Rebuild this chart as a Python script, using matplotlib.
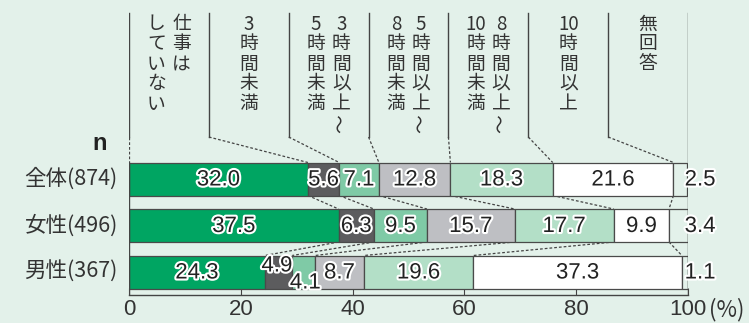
import re
import matplotlib
matplotlib.use("Agg")
import matplotlib.pyplot as plt
import matplotlib.patheffects as pe
import numpy as np

plt.rcParams['font.family'] = ['Liberation Sans', 'Noto Sans CJK JP', 'DejaVu Sans']

# ---------------- data ----------------
categories = ["仕事はしていない", "3時間未満", "3時間以上～5時間未満", "5時間以上～8時間未満",
              "8時間以上～10時間未満", "10時間以上", "無回答"]
header_cols = [["仕事は", "していない"], ["3時間未満"], ["3時間以上～", "5時間未満"],
               ["5時間以上～", "8時間未満"], ["8時間以上～", "10時間未満"], ["10時間以上"], ["無回答"]]
groups = ["全体(874)", "女性(496)", "男性(367)"]
v_all = [32.0, 5.6, 7.1, 12.8, 18.3, 21.6, 2.5]
v_female = [37.5, 6.3, 9.5, 15.7, 17.7, 9.9, 3.4]
v_male = [24.3, 4.9, 4.1, 8.7, 19.6, 37.3, 1.1]
rows = [v_all, v_female, v_male]
xticks = [0, 20, 40, 60, 80, 100]

# ---------------- style ----------------
BG = "#e3f1ea"
colors = ["#00a562", "#5c5c5e", "#7fcaa6", "#bebfc3", "#b3dfc7", "#ffffff", BG]
EDGE = "#4a4a4a"
TXT = "#333333"
label_offsets = {(2, 1): (-0.3, -7), (2, 2): (0.3, 10)}  # (row, seg): (dx data, dy px)

W, H = 749, 323
fig = plt.figure(figsize=(W / 100, H / 100), dpi=100, facecolor=BG)
ax = fig.add_axes([129 / W, 28 / H, 559 / W, 295 / H])
ax.set_facecolor(BG)
ax.set_xlim(0, 100)
ax.set_ylim(295, 0)

bar_h = 33
row_c = [179 + 46.5 * i for i in range(len(rows))]

outline = [pe.withStroke(linewidth=3, foreground="white")]
lab_font = dict(family=['Liberation Sans Narrow', 'Liberation Sans'], fontsize=16, color="#222222")

cums = []
for i, vals in enumerate(rows):
    left = np.concatenate([[0], np.cumsum(vals)[:-1]])
    cums.append(np.cumsum(vals))
    ax.barh(row_c[i], vals, left=left, height=bar_h, color=colors, edgecolor=EDGE,
            linewidth=0.9, zorder=3)
    for j, v in enumerate(vals):
        if j == len(vals) - 1:
            ax.text(99.4, row_c[i] + 1, f"{v:.1f}", ha="left", va="center",
                    path_effects=outline, zorder=6, **lab_font)
        else:
            dx, dy = label_offsets.get((i, j), (0, 0))
            ax.text(left[j] + v / 2 + dx, row_c[i] + 1 + dy, f"{v:.1f}", ha="center",
                    va="center", path_effects=outline, zorder=6, **lab_font)
    ax.text(-2.0, row_c[i], groups[i], ha="right", va="center", fontsize=15.5,
            color=TXT, family=['Noto Sans CJK JP'])

dash = dict(color="#444444", linewidth=0.9, linestyle=(0, (2.2, 1.6)), zorder=2)
ncat = len(categories)
# connectors between bars
for i in range(len(rows) - 1):
    for k in range(ncat - 1):
        ax.plot([cums[i][k], cums[i + 1][k]], [row_c[i] + bar_h / 2, row_c[i + 1] - bar_h / 2], **dash)

# header separators
head_top, head_bot = 13, 137
colw = 100 / ncat
for k in range(ncat + 1):
    xk = k * colw
    if k == ncat:
        ax.plot([100, 100], [head_top, 295], color="#444444", lw=1.0, zorder=4)
        continue
    ax.plot([xk, xk], [head_top, head_bot], color="#444444", lw=1.0, zorder=2)
    target = 0 if k == 0 else cums[0][k - 1]
    ax.plot([xk, target], [head_bot, row_c[0] - bar_h / 2], **dash)
ax.plot([0, 0], [row_c[0] - bar_h / 2, 295], color="#444444", lw=1.0, zorder=4)

# vertical header texts
pitch = 20
for k, subs in enumerate(header_cols):
    cx = (k + 0.5) * colw
    n = len(subs)
    offs = [0] if n == 1 else [2.25, -2.25]
    for s, sub in enumerate(subs):
        cells = re.findall(r"\d+|.", sub)
        for c, ch in enumerate(cells):
            y = 24 + pitch * c
            rot = 90 if ch == "～" else 0
            ax.text(cx + offs[s], y, ch, ha="center", va="center", fontsize=13.5,
                    color=TXT, rotation=rot, family=['Noto Sans CJK JP'])

ax.text(-5.2, 143, "n", ha="center", va="center", fontsize=17, fontweight="bold", color="#222222")

# axis
for sp in ["top", "right", "left"]:
    ax.spines[sp].set_visible(False)
ax.spines["bottom"].set_color("#444444")
ax.spines["bottom"].set_linewidth(1.0)
ax.set_yticks([])
ax.set_xticks(xticks)
ax.set_xticklabels([str(t) for t in xticks], fontsize=16, color=TXT)
ax.tick_params(axis="x", direction="in", length=5, color="#444444", pad=3)
ax.text(103.7, 310, "(%)", ha="left", va="center", fontsize=16, color=TXT,
        family=['Noto Sans CJK JP'], clip_on=False)

fig.savefig("out.png", dpi=100, facecolor=BG)
